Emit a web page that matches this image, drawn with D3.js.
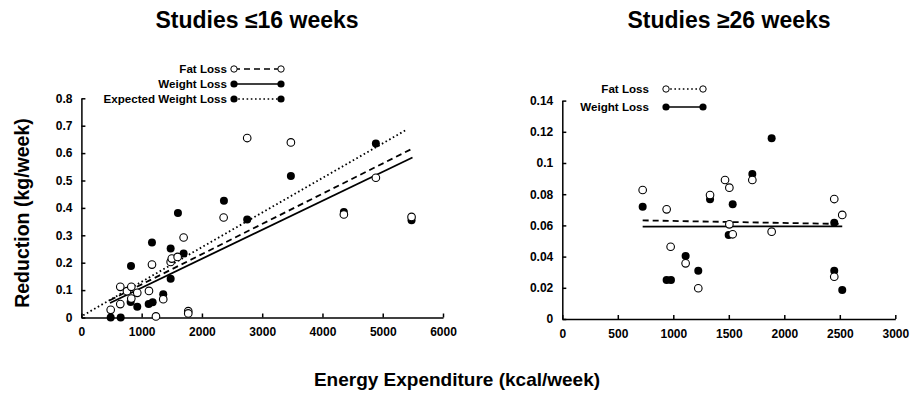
<!DOCTYPE html>
<html>
<head>
<meta charset="utf-8">
<script src="https://cdn.jsdelivr.net/npm/d3@7"></script>
<style>
  body { margin: 0; background: #fff; }
  svg { font-family: Arial, "Liberation Sans", sans-serif; font-weight: bold; }
  .axis path, .axis line { stroke: #000; stroke-width: 1.5; }
  .axis text { font-size: 12px; font-weight: bold; fill: #000; }
</style>
</head>
<body>
<div id="chart-area"></div>
<script>
// --- data: [energy expenditure kcal/week, reduction kg/week]
const shortFat = [[486, 0.028], [645, 0.049], [645, 0.112], [756, 0.096], [828, 0.112], [828, 0.069],
  [927, 0.09], [1121, 0.097], [1171, 0.193], [1237, 0.004], [1358, 0.067], [1481, 0.203], [1500, 0.215],
  [1597, 0.221], [1696, 0.292], [1773, 0.023], [1773, 0.015], [2360, 0.365], [2751, 0.655], [3476, 0.639],
  [4355, 0.376], [4886, 0.51], [5478, 0.367]];
const shortWeight = [[486, 0], [652, 0], [817, 0.057], [823, 0.188], [927, 0.039], [1116, 0.049],
  [1182, 0.056], [1171, 0.274], [1358, 0.085], [1481, 0.252], [1481, 0.141], [1602, 0.381], [1696, 0.234],
  [2365, 0.426], [2751, 0.358], [3476, 0.516], [4355, 0.385], [4886, 0.635], [5478, 0.355]];
const shortFatFit = [[475, 0.063], [5480, 0.615]];
const shortWeightFit = [[475, 0.053], [5494, 0.584]];
const shortExpectedFit = [[30, 0.008], [5400, 0.686]];

const longFat = [[724, 0.0827], [940, 0.0703], [976, 0.0463], [1111, 0.0357], [1225, 0.0197], [1331, 0.0795],
  [1466, 0.0891], [1505, 0.0842], [1505, 0.0607], [1535, 0.0543], [1712, 0.0891], [1886, 0.056],
  [2450, 0.0769], [2522, 0.0667], [2450, 0.0271]];
const longWeight = [[724, 0.072], [940, 0.025], [979, 0.025], [1111, 0.0404], [1225, 0.031], [1331, 0.0767],
  [1499, 0.0538], [1535, 0.0735], [1712, 0.093], [1886, 0.1158], [2450, 0.0617], [2450, 0.031], [2522, 0.0186]];
const longFatFit = [[724, 0.0632], [2522, 0.0609]];
const longWeightFit = [[724, 0.0592], [2522, 0.0594]];

const shortXTicks = [0, 1000, 2000, 3000, 4000, 5000, 6000];
const shortYTicks = [0, 0.1, 0.2, 0.3, 0.4, 0.5, 0.6, 0.7, 0.8];
const longXTicks = [0, 500, 1000, 1500, 2000, 2500, 3000];
const longYTicks = [0, 0.02, 0.04, 0.06, 0.08, 0.1, 0.12, 0.14];

const dash = { solid: null, dashed: "6,4", dotted: "1.6,2.6" };

const panels = [
  {
    title: "Studies \u226416 weeks", titleX: 257,
    x: [81.4, 443], y: [317.5, 98.3], xTicks: shortXTicks, yTicks: shortYTicks,
    fits: [[shortExpectedFit, "dotted"], [shortFatFit, "dashed"], [shortWeightFit, "solid"]],
    filled: shortWeight, open: shortFat,
    legend: { textX: 227, x0: 234, x1: 281, rows: [
      ["Fat Loss", false, "dashed", 69], ["Weight Loss", true, "solid", 84], ["Expected Weight Loss", true, "dotted", 99]] }
  },
  {
    title: "Studies \u226526 weeks", titleX: 729,
    x: [562.3, 895.3], y: [319, 100.6], xTicks: longXTicks, yTicks: longYTicks,
    fits: [[longFatFit, "dashed"], [longWeightFit, "solid"]],
    filled: longWeight, open: longFat,
    legend: { textX: 649, x0: 666, x1: 703, rows: [
      ["Fat Loss", false, "dotted", 89], ["Weight Loss", true, "solid", 107]] }
  }
];

const svg = d3.select("#chart-area").append("svg")
  .attr("width", 914).attr("height", 411);

const drawPanel = function(p) {
  const xs = d3.extent(p.xTicks), ys = d3.extent(p.yTicks);
  const x = d3.scaleLinear().domain(xs).range(p.x);
  const y = d3.scaleLinear().domain(ys).range(p.y);
  const g = svg.append("g");

  g.append("text")
    .attr("x", p.titleX).attr("y", 28)
    .attr("text-anchor", "middle")
    .style("font-size", "23px")
    .text(p.title);

  g.append("g")
    .attr("class", "axis")
    .attr("transform", `translate(0,${p.y[0]})`)
    .call(d3.axisBottom(x).tickValues(p.xTicks).tickSizeInner(-4).tickSizeOuter(0).tickPadding(10).tickFormat(d => d));

  g.append("g")
    .attr("class", "axis")
    .attr("transform", `translate(${p.x[0]},0)`)
    .call(d3.axisLeft(y).tickValues(p.yTicks).tickSizeInner(-4).tickSizeOuter(0).tickPadding(9).tickFormat(d => String(d)));

  const line = d3.line().x(d => x(d[0])).y(d => y(d[1]));
  p.fits.forEach(([pts, style]) => {
    g.append("path")
      .attr("d", line(pts))
      .attr("fill", "none")
      .attr("stroke", "#000")
      .attr("stroke-width", 1.8)
      .attr("stroke-dasharray", dash[style]);
  });

  g.selectAll(".filled").data(p.filled).enter().append("circle")
    .attr("cx", d => x(d[0])).attr("cy", d => y(d[1])).attr("r", 4)
    .attr("fill", "#000");
  g.selectAll(".open").data(p.open).enter().append("circle")
    .attr("cx", d => x(d[0])).attr("cy", d => y(d[1])).attr("r", 3.8)
    .attr("fill", "#fff").attr("stroke", "#000").attr("stroke-width", 1.1);

  // legend
  const lg = p.legend;
  lg.rows.forEach(([label, filled, style, ly]) => {
    g.append("text")
      .attr("x", lg.textX).attr("y", ly + 4)
      .attr("text-anchor", "end")
      .style("font-size", "11.6px")
      .text(label);
    g.append("line")
      .attr("x1", lg.x0).attr("x2", lg.x1).attr("y1", ly).attr("y2", ly)
      .attr("stroke", "#000").attr("stroke-width", filled ? 1.6 : 1.3)
      .attr("stroke-dasharray", dash[style]);
    [lg.x0, lg.x1].forEach(cx => {
      g.append("circle")
        .attr("cx", cx).attr("cy", ly).attr("r", filled ? 3.6 : 3.2)
        .attr("fill", filled ? "#000" : "#fff")
        .attr("stroke", "#000").attr("stroke-width", filled ? 0 : 1);
    });
  });
};

panels.forEach(drawPanel);

svg.append("text")
  .attr("transform", "rotate(-90)")
  .attr("x", -213).attr("y", 29)
  .attr("text-anchor", "middle")
  .style("font-size", "19.5px")
  .text("Reduction (kg/week)");

svg.append("text")
  .attr("x", 457).attr("y", 386)
  .attr("text-anchor", "middle")
  .style("font-size", "19px")
  .text("Energy Expenditure (kcal/week)");
</script>
</body>
</html>
